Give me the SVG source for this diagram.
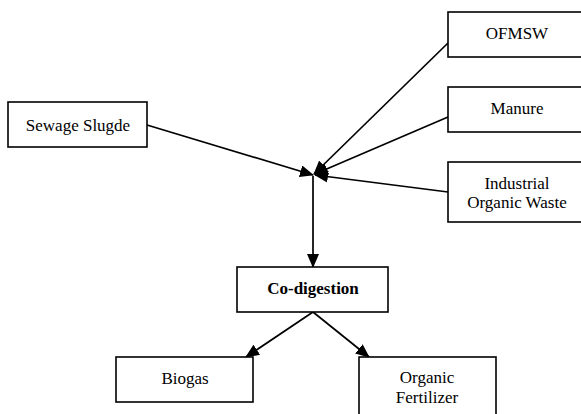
<svg xmlns="http://www.w3.org/2000/svg" width="581" height="414" viewBox="0 0 581 414">
<defs>
<style>
.box{fill:#fff;stroke:#000;stroke-width:1.6}
text{font-family:'Liberation Serif','Times New Roman','DejaVu Serif',serif;font-size:17px;fill:#000;text-anchor:middle}
.b{font-weight:bold}
.c{stroke:#000;stroke-width:1.7;fill:none}
</style>
<marker id="ah" markerUnits="userSpaceOnUse" markerWidth="14" markerHeight="12" viewBox="0 0 14 12" refX="13" refY="6" orient="auto">
<path d="M0,0 L14,6 L0,12 Z" fill="#000"/>
</marker>
</defs>
<rect width="581" height="414" fill="#fff"/>
<g id="connectors">
<line class="c" x1="147" y1="125" x2="313" y2="175" marker-end="url(#ah)"/>
<line class="c" x1="448" y1="43" x2="314" y2="174" marker-end="url(#ah)"/>
<line class="c" x1="448" y1="117" x2="315" y2="174" marker-end="url(#ah)"/>
<line class="c" x1="448" y1="192" x2="315" y2="175" marker-end="url(#ah)"/>
<line class="c" x1="313" y1="176" x2="313" y2="267" marker-end="url(#ah)"/>
<line class="c" x1="313" y1="312" x2="246" y2="357" marker-end="url(#ah)"/>
<line class="c" x1="313" y1="312" x2="369" y2="357" marker-end="url(#ah)"/>
</g>
<g id="sewage">
<rect class="box" x="8" y="102" width="139" height="45"/>
<text font-family="Liberation Serif, serif" x="78" y="131">Sewage Slugde</text>
</g>
<g id="ofmsw">
<rect class="box" x="448" y="12" width="140" height="45"/>
<text font-family="Liberation Serif, serif" x="517" y="39">OFMSW</text>
</g>
<g id="manure">
<rect class="box" x="448" y="87" width="140" height="45"/>
<text font-family="Liberation Serif, serif" x="517" y="114">Manure</text>
</g>
<g id="industrial">
<rect class="box" x="448" y="162" width="140" height="60"/>
<text font-family="Liberation Serif, serif" x="517" y="189">Industrial</text>
<text font-family="Liberation Serif, serif" x="517" y="208">Organic Waste</text>
</g>
<g id="codigestion">
<rect class="box" x="237" y="267" width="151" height="45"/>
<text class="b" font-family="Liberation Serif, serif" x="313" y="294">Co-digestion</text>
</g>
<g id="biogas">
<rect class="box" x="116" y="357" width="137" height="45"/>
<text font-family="Liberation Serif, serif" x="185" y="384">Biogas</text>
</g>
<g id="fertilizer">
<rect class="box" x="359" y="357" width="137" height="70"/>
<text font-family="Liberation Serif, serif" x="427" y="383">Organic</text>
<text font-family="Liberation Serif, serif" x="427" y="403">Fertilizer</text>
</g>
</svg>
